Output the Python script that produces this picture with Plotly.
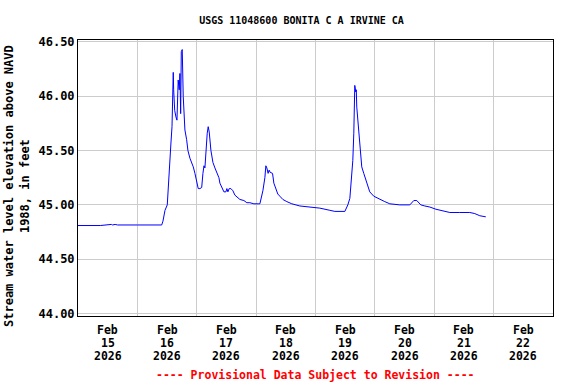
import plotly.graph_objects as go

times = [
    "2026-02-15 00:00", "2026-02-15 04:00", "2026-02-15 05:00", "2026-02-15 08:00", "2026-02-15 09:00",
    "2026-02-15 13:30", "2026-02-15 14:00", "2026-02-15 15:00", "2026-02-15 16:00", "2026-02-16 00:00",
    "2026-02-16 09:50", "2026-02-16 10:20", "2026-02-16 11:10", "2026-02-16 12:05", "2026-02-16 12:53",
    "2026-02-16 13:34", "2026-02-16 14:00", "2026-02-16 14:15", "2026-02-16 14:30", "2026-02-16 14:40",
    "2026-02-16 15:05", "2026-02-16 15:35", "2026-02-16 16:00", "2026-02-16 16:30", "2026-02-16 16:55",
    "2026-02-16 17:12", "2026-02-16 17:30", "2026-02-16 17:45", "2026-02-16 18:08", "2026-02-16 18:32",
    "2026-02-16 19:13", "2026-02-16 19:55", "2026-02-16 20:26", "2026-02-16 21:14", "2026-02-16 22:03",
    "2026-02-16 22:35", "2026-02-16 23:16", "2026-02-17 00:04", "2026-02-17 00:36", "2026-02-17 01:17",
    "2026-02-17 02:00", "2026-02-17 02:30", "2026-02-17 02:55", "2026-02-17 03:18", "2026-02-17 03:43",
    "2026-02-17 04:14", "2026-02-17 04:38", "2026-02-17 05:03", "2026-02-17 05:44", "2026-02-17 06:33",
    "2026-02-17 07:21", "2026-02-17 08:10", "2026-02-17 08:58", "2026-02-17 09:22", "2026-02-17 10:10",
    "2026-02-17 10:59", "2026-02-17 11:47", "2026-02-17 12:11", "2026-02-17 12:35", "2026-02-17 13:07",
    "2026-02-17 13:48", "2026-02-17 14:37", "2026-02-17 15:25", "2026-02-17 16:38", "2026-02-17 17:26",
    "2026-02-17 19:03", "2026-02-17 20:16", "2026-02-17 21:29", "2026-02-17 23:06", "2026-02-18 01:07",
    "2026-02-18 01:31", "2026-02-18 02:44", "2026-02-18 03:32", "2026-02-18 03:56", "2026-02-18 04:20",
    "2026-02-18 04:51", "2026-02-18 05:15", "2026-02-18 05:40", "2026-02-18 06:38", "2026-02-18 07:10",
    "2026-02-18 07:58", "2026-02-18 08:46", "2026-02-18 09:35", "2026-02-18 10:48", "2026-02-18 12:25",
    "2026-02-18 14:26", "2026-02-18 17:40", "2026-02-18 21:43", "2026-02-19 01:45", "2026-02-19 05:48",
    "2026-02-19 07:49", "2026-02-19 11:52", "2026-02-19 12:16", "2026-02-19 13:04", "2026-02-19 13:53",
    "2026-02-19 14:17", "2026-02-19 14:41", "2026-02-19 15:05", "2026-02-19 15:29", "2026-02-19 15:46",
    "2026-02-19 15:53", "2026-02-19 16:17", "2026-02-19 16:29", "2026-02-19 16:41", "2026-02-19 17:05",
    "2026-02-19 17:30", "2026-02-19 17:54", "2026-02-19 18:42", "2026-02-19 19:31", "2026-02-19 20:19",
    "2026-02-19 21:08", "2026-02-19 21:56", "2026-02-19 23:33", "2026-02-20 01:10", "2026-02-20 04:00",
    "2026-02-20 06:03", "2026-02-20 10:05", "2026-02-20 14:08", "2026-02-20 14:56", "2026-02-20 15:44",
    "2026-02-20 16:57", "2026-02-20 17:46", "2026-02-20 18:34", "2026-02-20 20:11", "2026-02-20 22:14",
    "2026-02-21 00:40", "2026-02-21 02:16", "2026-02-21 04:17", "2026-02-21 06:18", "2026-02-21 10:20",
    "2026-02-21 14:22", "2026-02-21 16:23", "2026-02-21 17:36", "2026-02-21 18:25", "2026-02-21 20:50",
]
levels = [
    44.81, 44.81, 44.805, 44.805, 44.81,
    44.82, 44.815, 44.82, 44.815, 44.815,
    44.815, 44.85, 44.95, 45.00, 45.38,
    45.57, 45.72, 46.21, 46.22, 46.06,
    45.87, 45.81, 45.78, 46.15, 46.06,
    46.21, 45.84, 46.41, 46.43, 46.00,
    45.69, 45.60, 45.50, 45.43, 45.39,
    45.35, 45.29, 45.20, 45.15, 45.15,
    45.16, 45.29, 45.36, 45.34, 45.50,
    45.66, 45.72, 45.67, 45.50, 45.39,
    45.34, 45.29, 45.25, 45.20, 45.16,
    45.12, 45.12, 45.15, 45.12, 45.15,
    45.15, 45.13, 45.09, 45.07, 45.05,
    45.04, 45.02, 45.02, 45.01, 45.01,
    45.01, 45.13, 45.25, 45.36, 45.34,
    45.29, 45.32, 45.30, 45.29, 45.20,
    45.14, 45.10, 45.08, 45.05, 45.03,
    45.01, 44.99, 44.98, 44.97, 44.95,
    44.94, 44.94, 44.96, 45.00, 45.06,
    45.20, 45.29, 45.41, 45.66, 46.06,
    46.10, 46.04, 46.06, 45.90, 45.78,
    45.66, 45.50, 45.35, 45.29, 45.23,
    45.16, 45.12, 45.08, 45.06, 45.03,
    45.01, 45.00, 45.00, 45.02, 45.04,
    45.04, 45.02, 45.00, 44.99, 44.98,
    44.96, 44.95, 44.94, 44.93, 44.93,
    44.93, 44.92, 44.91, 44.90, 44.89,
]

tick_days = ["2026-02-15 12:00", "2026-02-16 12:00", "2026-02-17 12:00", "2026-02-18 12:00",
             "2026-02-19 12:00", "2026-02-20 12:00", "2026-02-21 12:00", "2026-02-22 12:00"]
tick_months = ["Feb"] * 8
tick_dates = ["15", "16", "17", "18", "19", "20", "21", "22"]
tick_years = ["2026"] * 8
y_ticks = [44.0, 44.5, 45.0, 45.5, 46.0, 46.5]

FONT = "DejaVu Sans Mono"

fig = go.Figure()
fig.add_trace(go.Scatter(x=times, y=levels, mode="lines",
                         line=dict(color="#0000ff", width=1), showlegend=False))

fig.update_layout(
    width=576, height=384,
    margin=dict(l=78, r=23, t=40, b=68, autoexpand=False),
    paper_bgcolor="white", plot_bgcolor="white",
    font=dict(family=FONT, size=11, color="black"),
    title=dict(text="<b>USGS 11048600 BONITA C A IRVINE CA</b>", x=301.5/576, xanchor="center",
               y=1 - 20/384, yanchor="middle", font=dict(family=FONT, size=10, color="black")),
)
fig.update_xaxes(
    type="date",
    range=["2026-02-15 00:00", "2026-02-23 00:00"],
    tickmode="array", tickvals=tick_days,
    ticktext=["" for _ in tick_days],
    showgrid=False, ticks="", showline=True, linecolor="black", linewidth=1, mirror=True,
    minor=dict(tickmode="linear", tick0="2026-02-15", dtick=86400000, showgrid=True,
               gridcolor="#cccccc", gridwidth=1, ticks=""),
    zeroline=False, automargin=False,
)
# three-line date labels, placed on the x axis at each day's noon
for xv, m, d, yr in zip(tick_days, tick_months, tick_dates, tick_years):
    for i, txt in enumerate([m, d, yr]):
        fig.add_annotation(text="<b>%s</b>" % txt, x=xv, xref="x", yref="paper",
                           y=0, yshift=-(14 + 12.8 * i), yanchor="middle", showarrow=False,
                           font=dict(family=FONT, size=11.5, color="black"))

fig.update_yaxes(
    range=[43.977, 46.518],
    tickmode="array", tickvals=y_ticks,
    ticktext=["<b>%.2f</b>" % v for v in y_ticks],
    tickfont=dict(family=FONT, size=12, color="black"),
    showgrid=True, gridcolor="#cccccc", gridwidth=1,
    ticks="", showline=True, linecolor="black", linewidth=1, mirror=True,
    zeroline=False, automargin=False,
)
fig.add_annotation(text="<b>Stream water level elevation above NAVD<br>1988, in feet</b>",
                   xref="paper", yref="paper", x=0, xshift=-61, xanchor="center",
                   y=(316 - 186) / 276, yanchor="middle", textangle=-90, showarrow=False,
                   font=dict(family=FONT, size=12, color="black"))
fig.add_annotation(text="<b>---- Provisional Data Subject to Revision ----</b>",
                   xref="paper", yref="paper", x=0.5, y=0, yshift=-59, yanchor="middle",
                   showarrow=False, font=dict(family=FONT, size=11.5, color="#ff0000"))

fig.write_html("out.html", config={"displayModeBar": False},
               post_script="document.body.style.margin='0px';")
